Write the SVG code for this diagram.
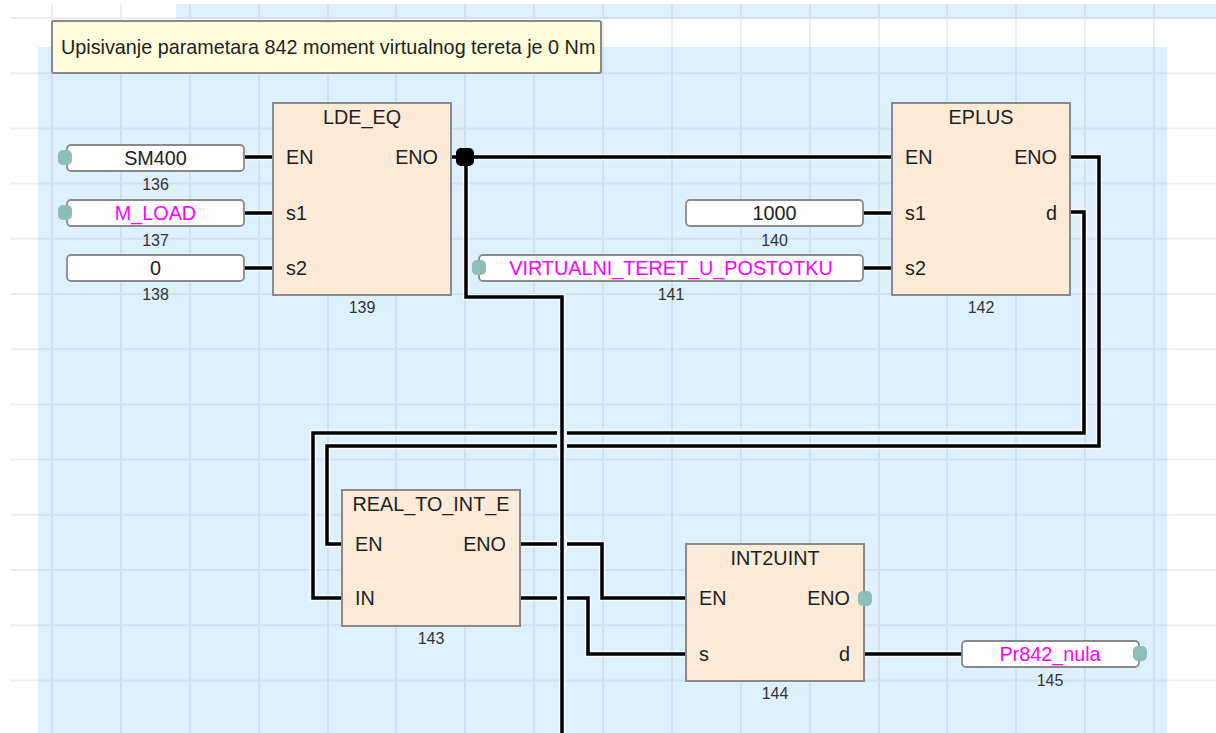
<svg xmlns="http://www.w3.org/2000/svg" width="1216" height="733" viewBox="0 0 1216 733">
<style>
.t{font-family:"Liberation Sans",Arial,sans-serif;font-size:19.8px;fill:#1e1e1e}
.c{text-anchor:middle}
.r{text-anchor:end}
.num{font-family:"Liberation Sans",Arial,sans-serif;font-size:16px;fill:#333;text-anchor:middle}
.mag{fill:#ff00ff}
.blk{fill:#faead7;stroke:#8a8a8a;stroke-width:2}
.var{fill:#fff;stroke:#8a8a8a;stroke-width:1.8}
.hdl{fill:#8fbdb8}
.grid{fill:none;stroke:#000;stroke-opacity:0.065;stroke-width:2}
.halo{fill:none;stroke:#fff;stroke-opacity:0.75;stroke-width:6.5;stroke-linejoin:miter}
.wire{fill:none;stroke:#000;stroke-width:3.5;stroke-linejoin:miter}
.gap{fill:none;stroke:#eaf5fe;stroke-width:10}
</style>
<rect width="1216" height="733" fill="#fff"/>
<rect x="176" y="4" width="1040" height="15" fill="#dff0fd"/>
<rect x="38" y="47" width="1129" height="686" fill="#dff0fd"/>
<path class="grid" d="M52 4V733M121 4V733M190 4V733M259 4V733M328 4V733M396 4V733M465 4V733M534 4V733M603 4V733M672 4V733M741 4V733M810 4V733M879 4V733M947 4V733M1016 4V733M1085 4V733M1154 4V733
M10 18H1216M10 73.2H1216M10 128.4H1216M10 183.6H1216M10 238.8H1216M10 294H1216M10 349.2H1216M10 404.4H1216M10 459.6H1216M10 514.8H1216M10 570H1216M10 625.2H1216M10 680.4H1216"/>

<g id="comment">
<rect x="52" y="21" width="549" height="52" rx="2" fill="#fefedc" stroke="#8a8a8a" stroke-width="2"/>
<text class="t" x="61" y="54" font-size="20.3">Upisivanje parametara 842 moment virtualnog tereta je 0 Nm</text>
</g>

<g id="connectors">
<path class="halo" d="M244 157H273M244 213H273M244 268H273M451 157H892M466 157V297H562V733M863 213H892M863 268H892M1071 157H1099V446H327V544H342M1071 212H1084V433H313V598H342M520 544H602V598H686M520 598H588V654H686M864 654H962"/>
<path class="wire" d="M244 157H273M244 213H273M244 268H273M451 157H892M863 213H892M863 268H892M1071 157H1099V446H327V544H342M1071 212H1084V433H313V598H342M520 544H602V598H686M520 598H588V654H686M864 654H962"/>
<path class="gap" d="M562 426V453M562 537V551M562 591V605"/>
<path class="wire" d="M466 157V297H562V733"/>
</g>

<g id="v136">
<rect class="var" x="67" y="145" width="177" height="26" rx="4"/>
<rect class="hdl" x="58" y="150" width="14" height="15" rx="5"/>
<text class="t c" x="155.5" y="164.5" fill="#333">SM400</text>
<text class="num" x="155.5" y="190">136</text>
</g>
<g id="v137">
<rect class="var" x="67" y="200" width="177" height="26" rx="4"/>
<rect class="hdl" x="58" y="205" width="14" height="15" rx="5"/>
<text class="t c mag" x="155.5" y="220">M_LOAD</text>
<text class="num" x="155.5" y="245.5">137</text>
</g>
<g id="v138">
<rect class="var" x="67" y="255" width="177" height="26" rx="4"/>
<text class="t c" x="155.5" y="274.5">0</text>
<text class="num" x="155.5" y="300">138</text>
</g>

<g id="n139">
<rect class="blk" x="273" y="103" width="178" height="192"/>
<text class="t c" x="362" y="124">LDE_EQ</text>
<text class="t" x="286" y="164">EN</text>
<text class="t r" x="438" y="164">ENO</text>
<text class="t" x="286" y="220">s1</text>
<text class="t" x="286" y="275">s2</text>
<text class="num" x="362" y="313">139</text>
</g>

<g id="junction">
<rect x="456" y="148" width="18" height="18" rx="5" fill="#000"/>
</g>

<g id="v140">
<rect class="var" x="686" y="200" width="177" height="26" rx="4"/>
<text class="t c" x="774.5" y="220">1000</text>
<text class="num" x="774.5" y="245.5">140</text>
</g>
<g id="v141">
<rect class="var" x="479" y="255" width="384" height="26" rx="4"/>
<rect class="hdl" x="472" y="260" width="14" height="15" rx="5"/>
<text class="t c mag" x="671" y="274.5">VIRTUALNI_TERET_U_POSTOTKU</text>
<text class="num" x="671" y="299.5">141</text>
</g>

<g id="n142">
<rect class="blk" x="892" y="103" width="178" height="192"/>
<text class="t c" x="981" y="124">EPLUS</text>
<text class="t" x="905" y="164">EN</text>
<text class="t r" x="1057" y="164">ENO</text>
<text class="t" x="905" y="220">s1</text>
<text class="t r" x="1057" y="220">d</text>
<text class="t" x="905" y="275">s2</text>
<text class="num" x="981" y="313">142</text>
</g>

<g id="n143">
<rect class="blk" x="342" y="490" width="178" height="136"/>
<text class="t c" x="431" y="511">REAL_TO_INT_E</text>
<text class="t" x="355" y="551">EN</text>
<text class="t r" x="506" y="551">ENO</text>
<text class="t" x="355" y="605">IN</text>
<text class="num" x="431" y="644">143</text>
</g>

<g id="n144">
<rect class="blk" x="686" y="544" width="178" height="137"/>
<text class="t c" x="775" y="565">INT2UINT</text>
<text class="t" x="699" y="605">EN</text>
<text class="t r" x="850" y="605">ENO</text>
<rect class="hdl" x="858" y="591" width="14" height="15" rx="5"/>
<text class="t" x="699" y="661">s</text>
<text class="t r" x="850" y="661">d</text>
<text class="num" x="775" y="699">144</text>
</g>

<g id="v145">
<rect class="var" x="962" y="641" width="177" height="26" rx="4"/>
<rect class="hdl" x="1133" y="646" width="14" height="15" rx="5"/>
<text class="t c mag" x="1050" y="660.5">Pr842_nula</text>
<text class="num" x="1050" y="686">145</text>
</g>
</svg>
